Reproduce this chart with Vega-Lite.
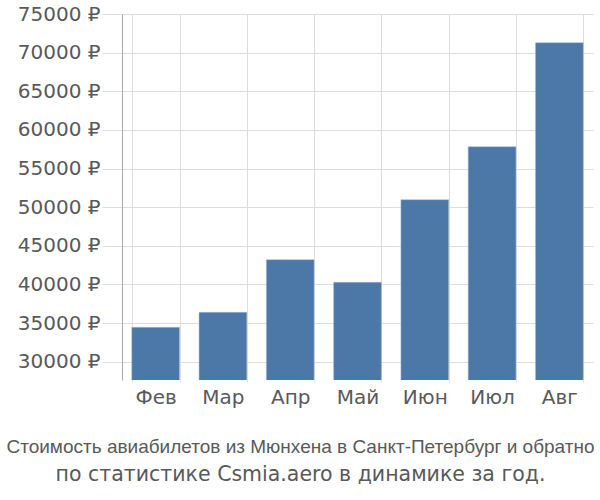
{
  "$schema": "https://vega.github.io/schema/vega-lite/v6.json",
  "autosize": "none",
  "width": 471,
  "height": 366,
  "padding": {"left": 122, "top": 14, "right": 7, "bottom": 120},
  "background": "white",
  "config": {
    "view": {"stroke": null},
    "font": "DejaVu Sans",
    "axis": {"labelFont": "DejaVu Sans", "labelColor": "#595959", "labelFontSize": 20, "gridColor": "#dddddd", "tickColor": "#dddddd"}
  },
  "title": {
    "text": "Стоимость авиабилетов из Мюнхена в Санкт-Петербург и обратно",
    "subtitle": "по статистике Csmia.aero в динамике за год.",
    "orient": "bottom",
    "anchor": "middle",
    "dx": -57,
    "offset": 31,
    "font": "Liberation Sans",
    "fontSize": 19,
    "fontWeight": "normal",
    "color": "#595959",
    "subtitleFont": "DejaVu Sans",
    "subtitleFontSize": 20.5,
    "subtitleColor": "#595959",
    "subtitlePadding": 8
  },
  "data": {
    "values": [
      {"month": "Фев", "price": 34450},
      {"month": "Мар", "price": 36390},
      {"month": "Апр", "price": 43200},
      {"month": "Май", "price": 40280},
      {"month": "Июн", "price": 50970},
      {"month": "Июл", "price": 57830},
      {"month": "Авг", "price": 71290}
    ]
  },
  "mark": {"type": "bar", "color": "#4c78a8", "stroke": "#a9bcd4", "strokeWidth": 0.5, "clip": true},
  "encoding": {
    "x": {
      "field": "month", "type": "nominal", "sort": null,
      "scale": {"paddingInner": 0.29, "paddingOuter": 0.145},
      "axis": {"title": null, "labelAngle": 0, "tickBand": "extent", "grid": true, "domain": false, "ticks": true, "tickSize": 2, "labelPadding": 5, "labelBaseline": "top"}
    },
    "y": {
      "field": "price", "type": "quantitative",
      "scale": {"domain": [27630, 75000], "nice": false, "zero": false},
      "axis": {"title": null, "values": [30000, 35000, 40000, 45000, 50000, 55000, 60000, 65000, 70000, 75000], "labelExpr": "datum.value + ' ₽'", "tickSize": 20, "labelPadding": 2, "domain": true, "domainColor": "#aaaaaa", "grid": true}
    }
  }
}
